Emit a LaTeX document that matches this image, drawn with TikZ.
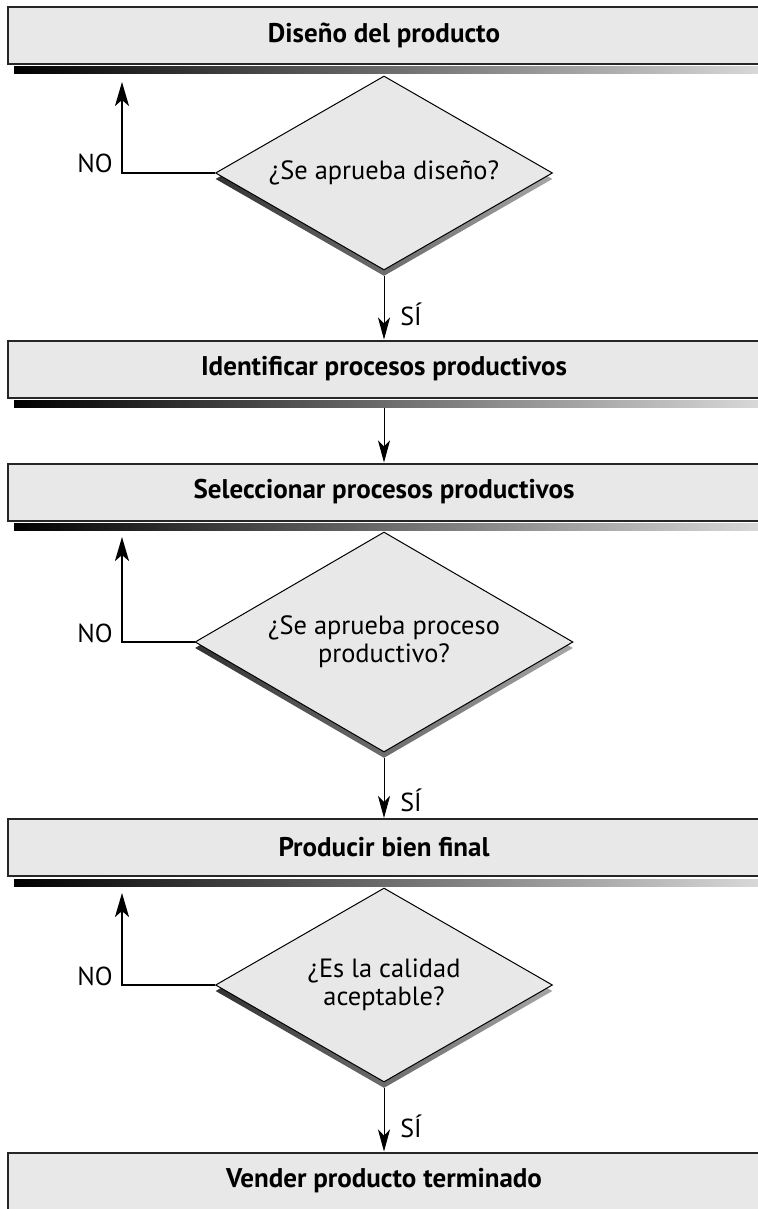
\documentclass[tikz,border=0pt]{standalone}
\usepackage{fontspec}
\setmainfont{PT Sans}
\usetikzlibrary{shapes.geometric,arrows.meta}

\begin{document}
\begin{tikzpicture}[x=0.5pt,y=-0.5pt,
  stepbox/.style={rectangle, draw=black!85, line width=1pt, fill=black!9,
    minimum width=376pt, minimum height=28.5pt, font=\bfseries\fontsize{13.5}{16}\selectfont},
  question/.style={diamond, aspect=1.75, draw=black, line width=0.5pt, fill=black!9, inner sep=0pt,
    align=center, font=\fontsize{13.2}{14}\selectfont},
  qshadow/.style={diamond, aspect=1.75, draw=none, left color=black!80, right color=black!35, inner sep=0pt},
  small q/.style={minimum width=168.5pt, minimum height=97pt},
  big q/.style={minimum width=189pt, minimum height=110pt},
  lbl/.style={inner sep=0pt, font=\fontsize{13}{14}\selectfont},
  fwd/.style={-{Stealth[length=11pt,width=6pt,inset=3pt]}, line width=0.5pt},
  back/.style={-{Stealth[length=12pt,width=7pt,inset=3pt]}, line width=1pt}]
\useasboundingbox (0,0) rectangle (757,1209);

% steps
\node[stepbox] (b1) at (384,35.5) {Diseño del producto};
\node[stepbox] (b2) at (384,369) {Identificar procesos productivos};
\node[stepbox] (b3) at (384,492) {Seleccionar procesos productivos};
\node[stepbox] (b4) at (384,847.5) {Producir bien final};
\node[stepbox] (b5) at (384,1181) {Vender producto terminado};
\foreach \b in {b1,b2,b3,b4}
  \shade[left color=black, right color=black!15]
    ([xshift=3.5pt,yshift=-1pt]\b.south west) rectangle ([yshift=-4.5pt]\b.south east);

% questions
\node[qshadow, small q] (q1s) at (384,179) {};
\node[question, small q] (q1) at (384,173) {¿Se aprueba diseño?};
\node[qshadow, big q] (q2s) at (384,648) {};
\node[question, big q] (q2) at (384,642) {¿Se aprueba proceso\\productivo?};
\node[qshadow, small q] (q3s) at (384,991) {};
\node[question, small q] (q3) at (384,985) {¿Es la calidad\\aceptable?};

% arrows
\coordinate (r1) at (122,82);
\coordinate (r2) at (122,537);
\coordinate (r3) at (122,893);
\draw[back] (q1.west) -| (r1);
\draw[back] (q2.west) -| (r2);
\draw[back] (q3.west) -| (r3);
\node[lbl, anchor=base east] (no1) at (113,173) {NO};
\node[lbl, anchor=base east] (no2) at (113,642) {NO};
\node[lbl, anchor=base east] (no3) at (113,985) {NO};

\draw[fwd] (q1s.south) -- (b2.north);
\draw[fwd] ([yshift=-4.5pt]b2.south) -- (b3.north);
\draw[fwd] (q2s.south) -- (b4.north);
\draw[fwd] (q3s.south) -- (b5.north);
\node[lbl, anchor=base west] (si1) at (400,325) {SÍ};
\node[lbl, anchor=base west] (si2) at (400,811) {SÍ};
\node[lbl, anchor=base west] (si3) at (400,1137) {SÍ};
\end{tikzpicture}
\end{document}
